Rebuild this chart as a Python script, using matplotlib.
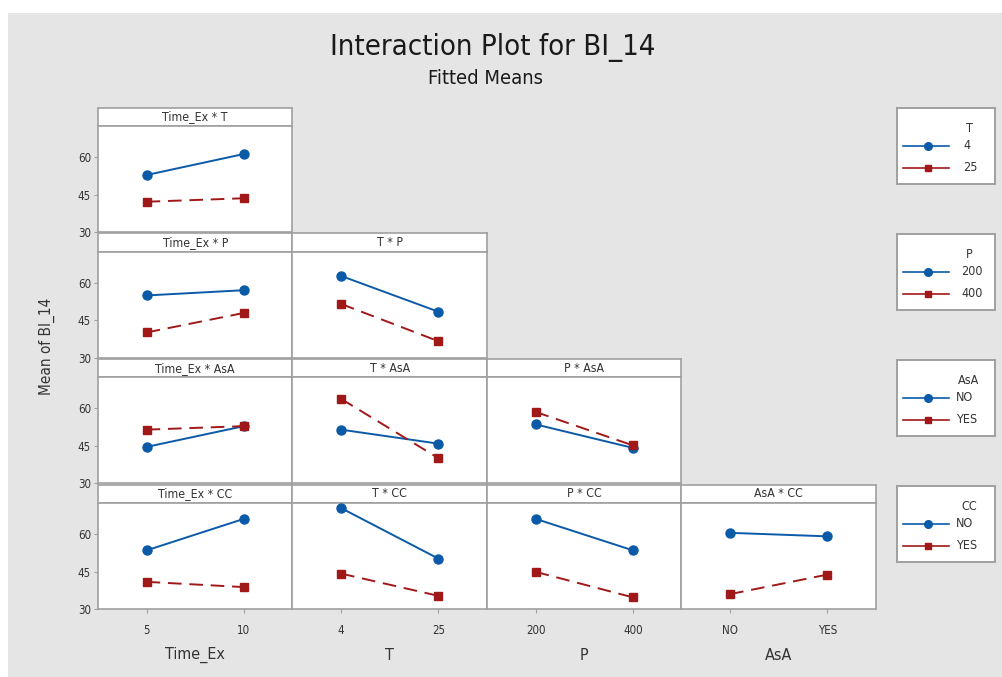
import matplotlib
matplotlib.use("Agg")
import matplotlib.pyplot as plt
from matplotlib.patches import Rectangle

plt.rcParams["font.family"] = ["DejaVu Sans"]
plt.rcParams["font.stretch"] = "condensed"

W, H, DPI = 1003, 677, 100

title = "Interaction Plot for BI_14"
subtitle = "Fitted Means"
y_label = "Mean of BI_14"

# x factors (columns) and trace factors (rows)
col_factors = ["Time_Ex", "T", "P", "AsA"]
row_factors = ["T", "P", "AsA", "CC"]
levels = {
    "Time_Ex": ["5", "10"],
    "T": ["4", "25"],
    "P": ["200", "400"],
    "AsA": ["NO", "YES"],
    "CC": ["NO", "YES"],
}

# fitted means: [trace level 1 (blue), trace level 2 (red)], one value per x level
time_ex_t = [[52.8, 61.2], [42.1, 43.5]]
time_ex_p = [[54.9, 57.0], [40.1, 47.9]]
t_p = [[62.7, 48.4], [51.5, 36.6]]
time_ex_asa = [[44.6, 52.9], [51.5, 52.9]]
t_asa = [[51.5, 45.9], [63.8, 40.1]]
p_asa = [[53.6, 44.2], [58.6, 45.2]]
time_ex_cc = [[53.5, 66.1], [40.9, 38.8]]
t_cc = [[70.4, 50.2], [44.2, 35.3]]
p_cc = [[66.1, 53.5], [44.9, 34.7]]
asa_cc = [[60.5, 59.1], [36.0, 43.8]]

panels = {
    ("Time_Ex", "T"): time_ex_t,
    ("Time_Ex", "P"): time_ex_p,
    ("T", "P"): t_p,
    ("Time_Ex", "AsA"): time_ex_asa,
    ("T", "AsA"): t_asa,
    ("P", "AsA"): p_asa,
    ("Time_Ex", "CC"): time_ex_cc,
    ("T", "CC"): t_cc,
    ("P", "CC"): p_cc,
    ("AsA", "CC"): asa_cc,
}

y_ticks = [30, 45, 60]
y_lim = (30, 72.4)

BLUE = "#0b5aa8"
RED = "#a11818"
EDGE = "#a0a0a0"
TXT = "#333333"
BG = "#e5e5e5"


def rect(x, y, w, h):
    # pixel box (top-left origin) -> figure fraction
    return [x / W, 1 - (y + h) / H, w / W, h / H]


def draw_traces(ax, vals, ms=6.5, lw=1.4):
    xs = list(range(len(vals[0])))
    ax.plot(xs, vals[0], color=BLUE, lw=lw, marker="o", ms=ms, zorder=3)
    ax.plot(xs, vals[1], color=RED, lw=lw, ls=(0, (7, 4)), marker="s",
            ms=ms - 0.5, zorder=3)


fig = plt.figure(figsize=(W / DPI, H / DPI), dpi=DPI, facecolor="white")
fig.patches.append(Rectangle((8 / W, 0), 1 - 8 / W, 1 - 13 / H,
                             transform=fig.transFigure, facecolor=BG,
                             edgecolor="none", zorder=-10))

col_w, strip_h, plot_h, row_pitch = 194.5, 18.5, 106, 125.7

for i, rf in enumerate(row_factors):
    top = 107.5 + row_pitch * i
    for j, cf in enumerate(col_factors[: i + 1]):
        x0 = 98 + col_w * j
        sax = fig.add_axes(rect(x0, top, col_w, strip_h))
        sax.set_xticks([])
        sax.set_yticks([])
        for s in sax.spines.values():
            s.set_color(EDGE)
            s.set_linewidth(1.2)
        sax.text(0.5, 0.5, f"{cf} * {rf}", ha="center", va="center",
                 fontsize=8.8, color=TXT, transform=sax.transAxes)

        ax = fig.add_axes(rect(x0, top + strip_h, col_w, plot_h))
        draw_traces(ax, panels[(cf, rf)])
        ax.set_xlim(-0.5, 1.5)
        ax.set_ylim(*y_lim)
        for s in ax.spines.values():
            s.set_color(EDGE)
            s.set_linewidth(1.2)
        ax.tick_params(direction="out", length=3, color=EDGE, labelsize=8.3,
                       labelcolor=TXT, pad=2)
        if j == 0:
            ax.set_yticks(y_ticks)
            ax.set_yticklabels([str(v) for v in y_ticks])
        else:
            ax.set_yticks([])
        if i == len(row_factors) - 1:
            ax.set_xticks(range(len(levels[cf])))
            ax.set_xticklabels(levels[cf])
            ax.tick_params(axis="x", pad=8)
            fig.text((x0 + col_w / 2) / W, 1 - 655 / H, cf, ha="center",
                     va="center", fontsize=11.5, color=TXT)
        else:
            ax.set_xticks([])

# legends, one per trace factor
label_x = {"T": 66, "P": 64, "AsA": 59, "CC": 59}
for i, rf in enumerate(row_factors):
    lax = fig.add_axes(rect(897, 108 + 126 * i, 98, 76))
    lax.set_xlim(0, 98)
    lax.set_ylim(76, 0)
    lax.set_xticks([])
    lax.set_yticks([])
    for s in lax.spines.values():
        s.set_color(EDGE)
        s.set_linewidth(1.4)
    lax.text(72, 20, rf, ha="center", va="center", fontsize=9, color=TXT)
    for k, (col, mk, lvl) in enumerate(zip([BLUE, RED], ["o", "s"], levels[rf])):
        yy = 37.7 + 22 * k
        lax.plot([6, 52], [yy, yy], color=col, lw=1.2)
        lax.plot([31], [yy], color=col, marker=mk, ms=5.5 if mk == "o" else 5)
        lax.text(label_x[rf], yy, lvl, ha="left", va="center", fontsize=9,
                 color=TXT)

fig.text(493 / W, 1 - 47 / H, title, ha="center", va="center", fontsize=21,
         color="#1a1a1a", fontweight="medium")
fig.text(486 / W, 1 - 78 / H, subtitle, ha="center", va="center", fontsize=14.5,
         color="#1a1a1a")
fig.text(47 / W, 1 - 346 / H, y_label, ha="center", va="center", rotation=90,
         fontsize=11, color=TXT)

fig.savefig("out.png", dpi=DPI, facecolor="white")
